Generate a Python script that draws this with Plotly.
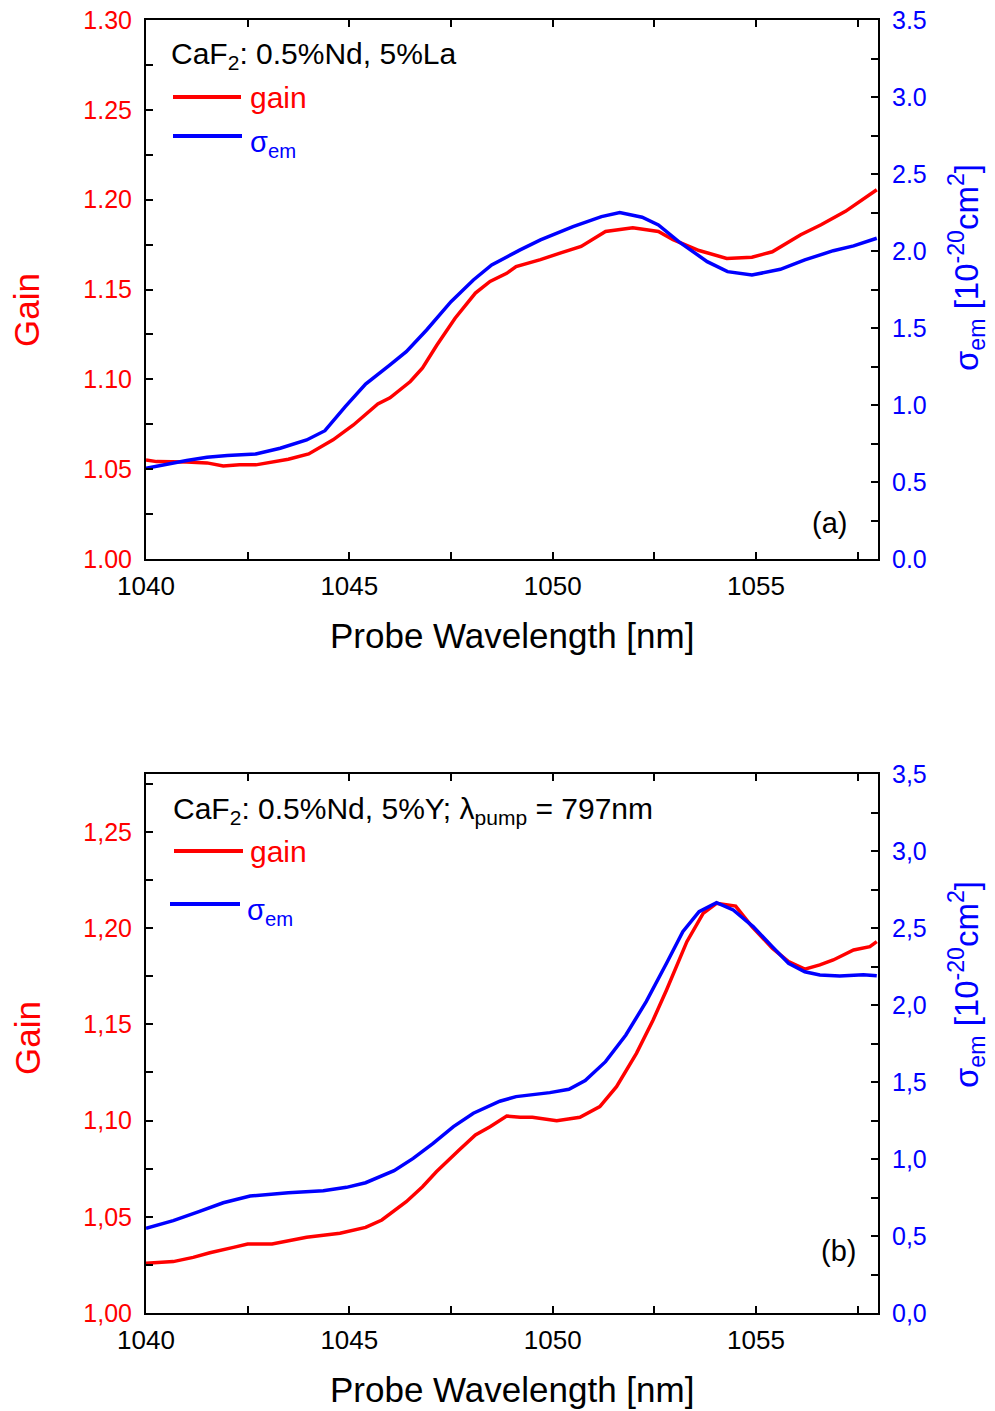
import plotly.graph_objects as go

# ---------------- data ----------------
# Panel (a): CaF2: 0.5%Nd, 5%La
a_gain_x = [1040.0, 1040.26, 1041.0, 1041.5, 1041.9, 1042.3, 1042.7, 1043.1, 1043.5, 1044.0,
            1044.6, 1045.1, 1045.7, 1046.0, 1046.5, 1046.8, 1047.15, 1047.6, 1048.1, 1048.46,
            1048.87, 1049.1, 1049.7, 1050.2, 1050.7, 1051.3, 1051.97, 1052.6, 1052.96, 1053.6,
            1054.28, 1054.9, 1055.4, 1056.1, 1056.6, 1057.2, 1057.97]
a_gain_y = [1.0551, 1.0542, 1.0540, 1.0535, 1.0518, 1.0525, 1.0524, 1.0540, 1.0555, 1.0585,
            1.0663, 1.0746, 1.0863, 1.0897, 1.0988, 1.1064, 1.1190, 1.1340, 1.1480, 1.1545,
            1.1590, 1.1628, 1.1666, 1.1704, 1.1740, 1.1823, 1.1843, 1.1823, 1.1777, 1.1717,
            1.1673, 1.1680, 1.1710, 1.1805, 1.1860, 1.1935, 1.2055]
a_sig_x = [1040.0, 1040.5, 1041.0, 1041.5, 1042.0, 1042.7, 1043.3, 1043.95, 1044.4, 1044.9,
           1045.4, 1046.0, 1046.4, 1046.9, 1047.5, 1048.05, 1048.5, 1049.2, 1049.7, 1050.5,
           1051.2, 1051.65, 1052.2, 1052.6, 1053.1, 1053.8, 1054.3, 1054.9, 1055.6, 1056.2,
           1056.9, 1057.4, 1057.97]
a_sig_y = [0.589, 0.615, 0.640, 0.660, 0.672, 0.682, 0.719, 0.773, 0.833, 0.989,
           1.136, 1.260, 1.346, 1.487, 1.671, 1.812, 1.909, 2.007, 2.072, 2.158,
           2.223, 2.249, 2.219, 2.169, 2.061, 1.931, 1.866, 1.844, 1.881, 1.942,
           2.002, 2.033, 2.083]

# Panel (b): CaF2: 0.5%Nd, 5%Y
b_gain_x = [1040.0, 1040.67, 1041.16, 1041.57, 1042.15, 1042.5, 1043.1, 1043.95, 1044.77, 1045.4,
            1045.8, 1046.4, 1046.8, 1047.14, 1047.7, 1048.1, 1048.46, 1048.87, 1049.2, 1049.5,
            1050.1, 1050.67, 1051.16, 1051.57, 1052.06, 1052.47, 1052.8, 1053.05, 1053.3, 1053.7,
            1054.03, 1054.5, 1054.9, 1055.4, 1055.8, 1056.2, 1056.57, 1056.9, 1057.4, 1057.8,
            1057.97]
b_gain_y = [1.0258, 1.0267, 1.0289, 1.0313, 1.0341, 1.0358, 1.0358, 1.0393, 1.0414, 1.0445,
            1.0483, 1.0578, 1.0656, 1.0734, 1.0847, 1.0925, 1.0968, 1.1023, 1.1017, 1.1017,
            1.0999, 1.1017, 1.1072, 1.1176, 1.1349, 1.1522, 1.1678, 1.1799, 1.1929, 1.2076,
            1.2128, 1.2114, 1.2007, 1.1895, 1.1825, 1.1786, 1.1808, 1.1834, 1.1886, 1.1903,
            1.1929]
b_sig_x = [1040.0, 1040.67, 1041.3, 1041.9, 1042.56, 1043.5, 1044.36, 1044.93, 1045.4, 1046.1,
           1046.57, 1047.06, 1047.56, 1048.05, 1048.7, 1049.1, 1049.93, 1050.4, 1050.8, 1051.3,
           1051.8, 1052.3, 1052.8, 1053.2, 1053.6, 1054.03, 1054.44, 1054.93, 1055.4, 1055.8,
           1056.2, 1056.57, 1057.06, 1057.64, 1057.97]
b_sig_y = [0.550, 0.600, 0.658, 0.716, 0.760, 0.781, 0.794, 0.816, 0.846, 0.924,
           1.004, 1.102, 1.210, 1.297, 1.375, 1.405, 1.431, 1.453, 1.509, 1.632,
           1.805, 2.022, 2.271, 2.476, 2.606, 2.665, 2.617, 2.509, 2.379, 2.271,
           2.216, 2.195, 2.188, 2.197, 2.190]

# tick labels
x_ticks = [1040, 1045, 1050, 1055]
a_gain_ticks = [1.00, 1.05, 1.10, 1.15, 1.20, 1.25, 1.30]
a_gain_labels = ["1.00", "1.05", "1.10", "1.15", "1.20", "1.25", "1.30"]
a_sig_ticks = [0.0, 0.5, 1.0, 1.5, 2.0, 2.5, 3.0, 3.5]
a_sig_labels = ["0.0", "0.5", "1.0", "1.5", "2.0", "2.5", "3.0", "3.5"]
b_gain_ticks = [1.00, 1.05, 1.10, 1.15, 1.20, 1.25]
b_gain_labels = ["1,00", "1,05", "1,10", "1,15", "1,20", "1,25"]
b_sig_ticks = [0.0, 0.5, 1.0, 1.5, 2.0, 2.5, 3.0, 3.5]
b_sig_labels = ["0,0", "0,5", "1,0", "1,5", "2,0", "2,5", "3,0", "3,5"]

# ---------------- layout helpers ----------------
W, H = 995, 1411
RED, BLUE = "#FF0000", "#0000FF"
FONT = "Liberation Sans, Arial, sans-serif"


def px(x):
    return x / W


def py(y):
    return 1 - y / H


XL, XR = 146, 878
A_T, A_B = 20, 559
B_T, B_B = 774, 1313

fig = go.Figure()
fig.add_trace(go.Scatter(x=a_gain_x, y=a_gain_y, mode="lines", line=dict(color=RED, width=3.5),
                         xaxis="x", yaxis="y", showlegend=False))
fig.add_trace(go.Scatter(x=a_sig_x, y=a_sig_y, mode="lines", line=dict(color=BLUE, width=3.5),
                         xaxis="x", yaxis="y2", showlegend=False))
fig.add_trace(go.Scatter(x=b_gain_x, y=b_gain_y, mode="lines", line=dict(color=RED, width=3.5),
                         xaxis="x2", yaxis="y3", showlegend=False))
fig.add_trace(go.Scatter(x=b_sig_x, y=b_sig_y, mode="lines", line=dict(color=BLUE, width=3.5),
                         xaxis="x2", yaxis="y4", showlegend=False))

common = dict(showline=True, linecolor="black", linewidth=2, ticks="inside", ticklen=7,
              tickwidth=2, tickcolor="black", showgrid=False, zeroline=False,
              automargin=False)
minor_x = dict(dtick=2.5, tick0=1040, ticks="inside", ticklen=7, tickwidth=2, tickcolor="black",
               showgrid=False)


def minor_y(d, t0):
    return dict(dtick=d, tick0=t0, ticks="inside", ticklen=7, tickwidth=2,
                tickcolor="black", showgrid=False)


xa = dict(common, domain=[px(XL), px(XR)], range=[1040, 1058], tickmode="array",
          tickvals=x_ticks, ticktext=[str(v) for v in x_ticks], mirror="ticks",
          minor=minor_x, tickfont=dict(family=FONT, size=26, color="black"),
          ticklabelstandoff=3)

fig.update_layout(
    width=W, height=H, template="none",
    paper_bgcolor="white", plot_bgcolor="white",
    margin=dict(l=0, r=0, t=0, b=0, autoexpand=False),
    showlegend=False,
    xaxis=dict(xa, anchor="y"),
    yaxis=dict(common, domain=[py(A_B), py(A_T)], range=[1.0, 1.3], tickmode="array",
               tickvals=a_gain_ticks, ticktext=a_gain_labels,
               tickfont=dict(family=FONT, size=25, color=RED), anchor="x",
               minor=minor_y(0.025, 1.0), ticklabelstandoff=7),
    yaxis2=dict(common, domain=[py(A_B), py(A_T)], range=[0, 3.5], tickmode="array",
                tickvals=a_sig_ticks, ticktext=a_sig_labels, overlaying="y", side="right",
                anchor="x", tickfont=dict(family=FONT, size=25, color=BLUE),
                minor=minor_y(0.25, 0), ticklabelstandoff=7),
    xaxis2=dict(xa, anchor="y3"),
    yaxis3=dict(common, domain=[py(B_B), py(B_T)], range=[1.0, 1.28], tickmode="array",
                tickvals=b_gain_ticks, ticktext=b_gain_labels,
                tickfont=dict(family=FONT, size=25, color=RED), anchor="x2",
                minor=minor_y(0.025, 1.0), ticklabelstandoff=7),
    yaxis4=dict(common, domain=[py(B_B), py(B_T)], range=[0, 3.5], tickmode="array",
                tickvals=b_sig_ticks, ticktext=b_sig_labels, overlaying="y3", side="right",
                anchor="x2", tickfont=dict(family=FONT, size=25, color=BLUE),
                minor=minor_y(0.25, 0), ticklabelstandoff=7),
)

ann = []


def add_text(text, x, y, size, color="black", xanchor="left", yanchor="middle", angle=0):
    ann.append(dict(text=text, x=px(x), y=py(y), xref="paper", yref="paper", showarrow=False,
                    xanchor=xanchor, yanchor=yanchor, textangle=angle,
                    font=dict(family=FONT, size=size, color=color)))


# axis titles
for (top, bot, gtitle_y, stitle_y) in [(A_T, A_B, 310, 268), (B_T, B_B, 1038, 985)]:
    add_text("Probe Wavelength [nm]", (XL + XR) / 2, bot + 76, 35, xanchor="center")
    add_text("Gain", 27, gtitle_y, 35, color=RED, xanchor="center", angle=-90)
    add_text("σ<sub>em</sub> [10<sup>-20</sup>cm<sup>2</sup>]", 966, stitle_y, 33, color=BLUE,
             xanchor="center", angle=-90)

# panel (a) legend
add_text("CaF<sub>2</sub>: 0.5%Nd, 5%La", 169, 56, 30)
add_text("gain", 248, 97, 30, color=RED)
add_text("σ<sub>em</sub>", 248, 144, 29, color=BLUE)
add_text("(a)", 829, 523, 29, xanchor="center")
# panel (b) legend
add_text("CaF<sub>2</sub>: 0.5%Nd, 5%Y; λ<sub>pump</sub> = 797nm", 171, 810, 30)
add_text("gain", 248, 851, 30, color=RED)
add_text("σ<sub>em</sub>", 245, 912, 29, color=BLUE)
add_text("(b)", 838, 1251, 29, xanchor="center")

shapes = []
for (x0, x1, y, c) in [(173, 241, 97, RED), (173, 242, 136, BLUE),
                       (174, 243, 851, RED), (170, 240, 904, BLUE)]:
    shapes.append(dict(type="line", xref="paper", yref="paper", x0=px(x0), x1=px(x1),
                       y0=py(y), y1=py(y), line=dict(color=c, width=4)))

fig.update_layout(annotations=ann, shapes=shapes)
fig.write_html("out.html", config={"displayModeBar": False},
               post_script="document.body.style.margin='0';document.body.style.padding='0';")
